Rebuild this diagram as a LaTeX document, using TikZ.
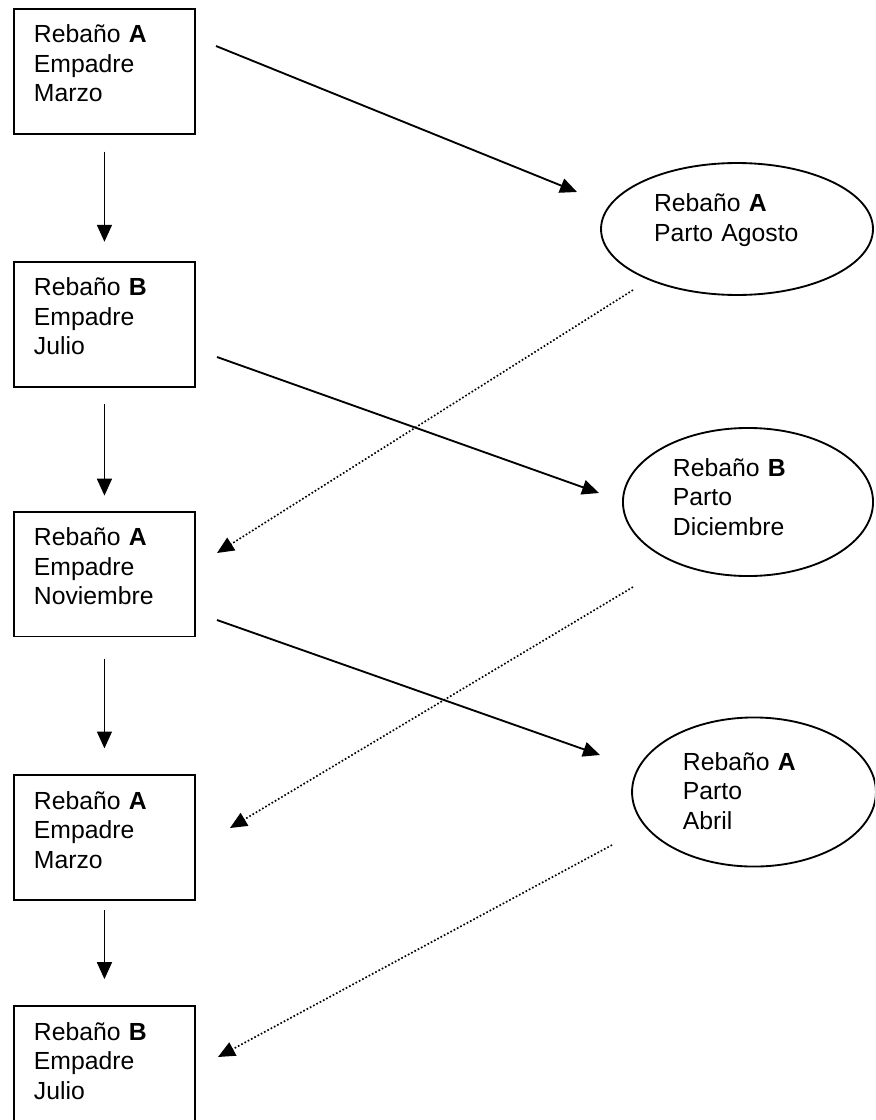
\documentclass[tikz,border=0pt]{standalone}
\usepackage{fontspec}
\setmainfont{Liberation Sans}
\usepackage{tikz}
\usetikzlibrary{shapes,arrows.meta}
\usetikzlibrary{positioning}
\tikzset{auto, >={Triangle[length=8.2pt,width=7.2pt]}, font=\fontsize{12}{14.3}\selectfont}
\tikzstyle{empadre} = [draw, rectangle, minimum width=87.8pt, text width=68.4pt, inner xsep=9.7pt, inner ysep=7.5pt, text height=9pt, text depth=36.6pt, align=left]
\tikzstyle{parto} = [draw, ellipse, inner sep=3.3pt, text height=9pt, align=left]
\tikzstyle{cruce} = [->, densely dotted, line width=0.8pt]
\tikzstyle{extremo} = [coordinate]

\begin{document}
\begin{tikzpicture}[x=0.485pt, y=-0.485pt, line width=0.9pt]
        \clip (0,0) rectangle (875,1120);
        % empadres
        \node [empadre, anchor=north west] (emp1) at (13,8) {Rebaño \textbf{A}\\Empadre\\Marzo};
        \node [empadre, below=61.1pt of emp1] (emp2) {Rebaño \textbf{B}\\Empadre\\Julio};
        \node [empadre, below=59.7pt of emp2] (emp3) {Rebaño \textbf{A}\\Empadre\\Noviembre};
        \node [empadre, below=66.4pt of emp3] (emp4) {Rebaño \textbf{A}\\Empadre\\Marzo};
        \node [empadre, below=50.4pt of emp4] (emp5) {Rebaño \textbf{B}\\Empadre\\Julio};
        % partos
        \node [parto, minimum width=131.9pt, minimum height=64pt, text width=80.5pt, text depth=25.9pt] (par1) at (737,229) {Rebaño \textbf{A}\\Parto Agosto};
        \node [parto, minimum width=121.3pt, minimum height=71.8pt, text width=72.8pt, text depth=33.8pt] (par2) at (748,502) {Rebaño \textbf{B}\\Parto\\Diciembre};
        \node [parto, minimum width=118.3pt, minimum height=72.3pt, text width=68.9pt, text depth=30pt] (par3) at (754,792) {Rebaño \textbf{A}\\Parto\\Abril};

        % extremos libres de las flechas
        \node [extremo] (e1a) at (216,46) {};
        \node [extremo] (e1b) at (577,192) {};
        \node [extremo] (e2a) at (217,357) {};
        \node [extremo] (e2b) at (599,493) {};
        \node [extremo] (e3a) at (217,620) {};
        \node [extremo] (e3b) at (600,755) {};
        \node [extremo] (p1a) at (633,290) {};
        \node [extremo] (p1b) at (217,553) {};
        \node [extremo] (p2a) at (633,587) {};
        \node [extremo] (p2b) at (230,828) {};
        \node [extremo] (p3a) at (612,845) {};
        \node [extremo] (p3b) at (218,1057) {};

        \draw [->, shorten <=8.2pt, shorten >=9.2pt] (emp1) -- (emp2);
        \draw [->, shorten <=8.2pt, shorten >=7.3pt] (emp2) -- (emp3);
        \draw [->, shorten <=10.2pt, shorten >=12.6pt] (emp3) -- (emp4);
        \draw [->, shorten <=4.4pt, shorten >=12.6pt] (emp4) -- (emp5);

        \draw [->] (e1a) -- (e1b);
        \draw [->] (e2a) -- (e2b);
        \draw [->] (e3a) -- (e3b);

        \draw [cruce] (p1a) -- (p1b);
        \draw [cruce] (p2a) -- (p2b);
        \draw [cruce] (p3a) -- (p3b);
    \end{tikzpicture}
\end{document}
